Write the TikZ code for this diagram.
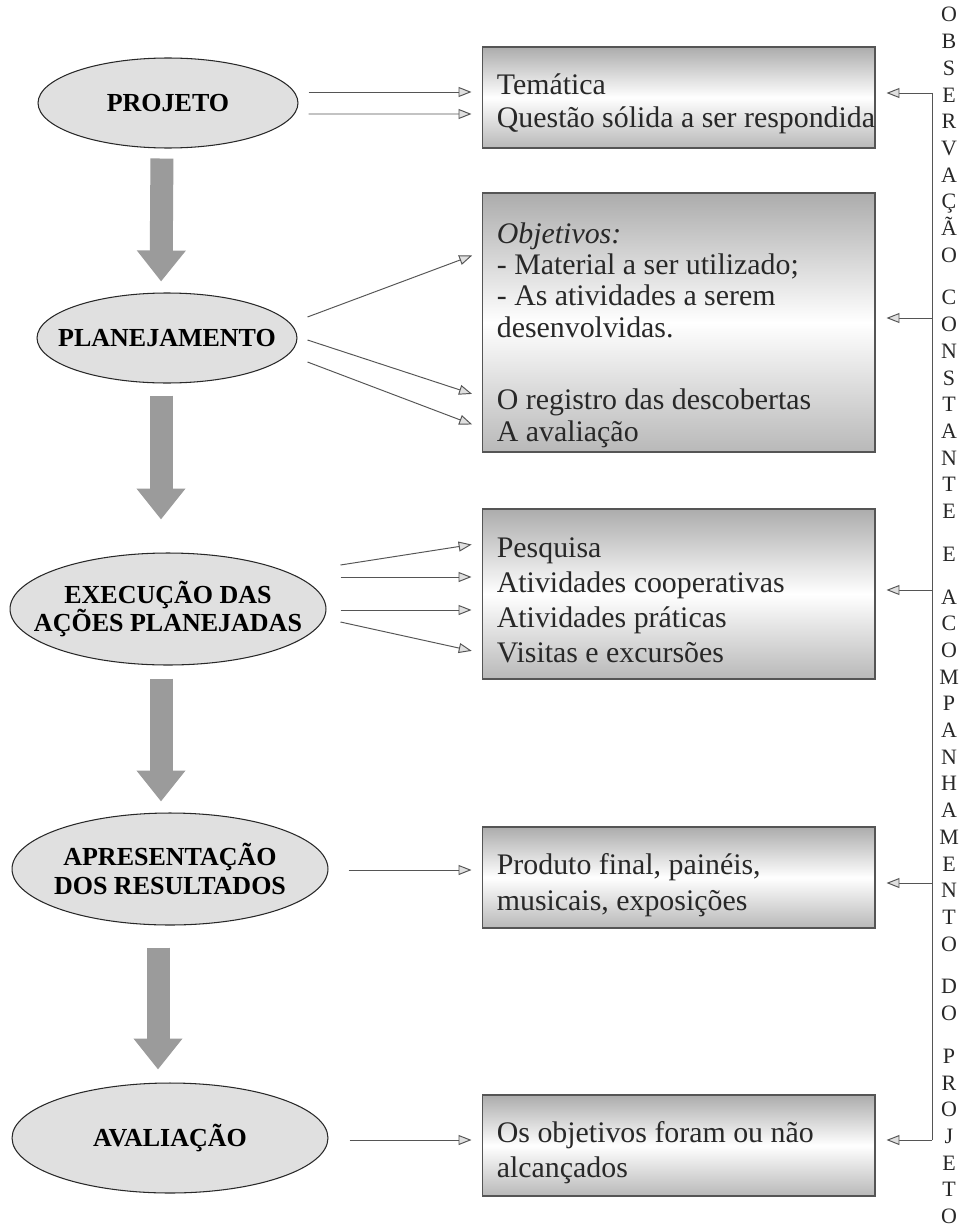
\documentclass[tikz,border=0pt]{standalone}
\usepackage{fontspec}
\setmainfont{Liberation Serif}
\usetikzlibrary{arrows.meta, positioning, shapes.geometric, calc}
\definecolor{inkgray}{RGB}{40,40,40}
\definecolor{halftone}{RGB}{224,224,224}
\definecolor{bandgray}{RGB}{172,172,172}
\definecolor{linegray}{RGB}{85,85,85}
\definecolor{arrowgray}{RGB}{155,155,155}

\begin{document}
\begin{tikzpicture}[x=0.02cm, y=-0.02cm,
    stage/.style={ellipse, draw=inkgray, line width=0.6pt, fill=halftone, inner xsep=-0.6cm, inner ysep=0pt, minimum width=5.2cm, minimum height=1.8cm, align=center, font=\fontsize{14.8}{16.5}\selectfont\bfseries},
    widestage/.style={stage, minimum width=6.32cm, minimum height=2.24cm},
    panel/.style={rectangle, draw=linegray, line width=0.6pt, top color=bandgray, bottom color=bandgray!85, middle color=white, minimum width=7.86cm, inner sep=0pt},
    paneltext/.style={anchor=west, inner sep=0pt, align=left, text=inkgray, font=\fontsize{17}{#1}\selectfont},
    vtext/.style={anchor=north, inner sep=0pt, align=center, text=inkgray, font=\fontsize{12.5}{15.2}\selectfont},
    flow/.style={-{Triangle[length=0.26cm, width=0.2cm, fill=halftone]}, draw=linegray, line width=0.55pt, shorten >=0.2cm},
    bigarrow/.style={-{Triangle[length=0.62cm, width=0.94cm]}, draw=arrowgray, line width=0.46cm}
]
\path[use as bounding box, fill=white] (0,0) rectangle (972,1230);

% etapas do projeto
\node[stage] (projeto) at (168,103) {PROJETO};
\node[stage] (planejamento) at (167,338) {PLANEJAMENTO};
\node[widestage] (execucao) at (168,609) {EXECUÇÃO DAS\\AÇÕES PLANEJADAS};
\node[widestage] (apresentacao) at (170,869) {APRESENTAÇÃO\\DOS RESULTADOS};
\node[widestage, minimum height=2.2cm] (avaliacao) at (170,1138) {AVALIAÇÃO};

% quadros de conteudo
\node[panel, minimum height=2.02cm] (tematica) at (678.5,97.5) {};
\node[panel, minimum height=5.18cm] (objetivos) at (678.5,322.5) {};
\node[panel, minimum height=3.4cm] (atividades) at (678.5,594) {};
\node[panel, minimum height=2.02cm] (produto) at (678.5,877.5) {};
\node[panel, minimum height=2.02cm] (alcance) at (678.5,1145.5) {};

\node[paneltext=19] (tematicatxt) at ([shift={(15,6)}]tematica.west) {Temática\\Questão sólida a ser respondida};
\node[paneltext=17.9] (objetivostxt) at ([shift={(15,12.5)}]objetivos.west) {\textit{Objetivos:}\\- Material a ser utilizado;\\- As atividades a serem\\desenvolvidas.\\[0.82cm]O registro das descobertas\\A avaliação};
\node[paneltext=19.9] (atividadestxt) at ([shift={(15,6)}]atividades.west) {Pesquisa\\Atividades cooperativas\\Atividades práticas\\Visitas e excursões};
\node[paneltext=20.5] (produtotxt) at ([shift={(15,7.5)}]produto.west) {Produto final, painéis,\\musicais, exposições};
\node[paneltext=19.9] (alcancetxt) at ([shift={(15,7)}]alcance.west) {Os objetivos foram ou não\\alcançados};

% setas grandes entre as etapas
\draw[bigarrow, shorten <=0.2cm, shorten >=0.22cm] ([shift={(-6,0)}]projeto.south) -- ([shift={(-6,0)}]planejamento.north);
\draw[bigarrow, shorten <=0.24cm, shorten >=0.66cm] ([shift={(-6,0)}]planejamento.south) -- ([shift={(-7,0)}]execucao.north);
\draw[bigarrow, shorten <=0.26cm, shorten >=0.22cm] ([shift={(-7,0)}]execucao.south) -- ([shift={(-9,0)}]apresentacao.north);
\draw[bigarrow, shorten <=0.44cm, shorten >=0.26cm] ([shift={(-12,0)}]apresentacao.south) -- ([shift={(-12,0)}]avaliacao.north);

% setas para os quadros
\draw[flow] ([shift={(10,-11)}]projeto.east) -- ([shift={(0,-5.5)}]tematica.west);
\draw[flow] ([shift={(10,11)}]projeto.east) -- ([shift={(0,16.5)}]tematica.west);
\draw[flow] ([shift={(10,-21)}]planejamento.east) -- ([shift={(0,-70.5)}]objetivos.west);
\draw[flow] ([shift={(10,2)}]planejamento.east) -- ([shift={(0,74.5)}]objetivos.west);
\draw[flow] ([shift={(10,24)}]planejamento.east) -- ([shift={(0,105.5)}]objetivos.west);
\draw[flow] ([shift={(14,-44)}]execucao.east) -- ([shift={(0,-51)}]atividades.west);
\draw[flow] ([shift={(14,-32)}]execucao.east) -- ([shift={(0,-17)}]atividades.west);
\draw[flow] ([shift={(14,1)}]execucao.east) -- ([shift={(0,16)}]atividades.west);
\draw[flow] ([shift={(14,13)}]execucao.east) -- ([shift={(0,59)}]atividades.west);
\draw[flow] ([shift={(20,1)}]apresentacao.east) -- ([shift={(0,-7.5)}]produto.west);
\draw[flow] ([shift={(21,2)}]avaliacao.east) -- ([shift={(0,-5.5)}]alcance.west);

% observacao constante
\coordinate (obs1) at (932,93);
\coordinate (obs2) at (932,318);
\coordinate (obs3) at (932,590);
\coordinate (obs4) at (932,883);
\coordinate (obs5) at (932,1140);
\draw[linegray, line width=0.55pt] (obs1) -- (obs5);
\draw[flow, shorten >=0.22cm] (obs1) -- (obs1 -| tematica.east);
\draw[flow, shorten >=0.22cm] (obs2) -- (obs2 -| objetivos.east);
\draw[flow, shorten >=0.22cm] (obs3) -- (obs3 -| atividades.east);
\draw[flow, shorten >=0.22cm] (obs4) -- (obs4 -| produto.east);
\draw[flow, shorten >=0.22cm] (obs5) -- (obs5 -| alcance.east);

\node[vtext] (observacao) at (949,7) {O\\B\\S\\E\\R\\V\\A\\Ç\\Ã\\O\\[0.32cm]C\\O\\N\\S\\T\\A\\N\\T\\E\\[0.32cm]E\\[0.32cm]A\\C\\O\\M\\P\\A\\N\\H\\A\\M\\E\\N\\T\\O\\[0.32cm]D\\O\\[0.32cm]P\\R\\O\\J\\E\\T\\O};
\end{tikzpicture}
\end{document}
